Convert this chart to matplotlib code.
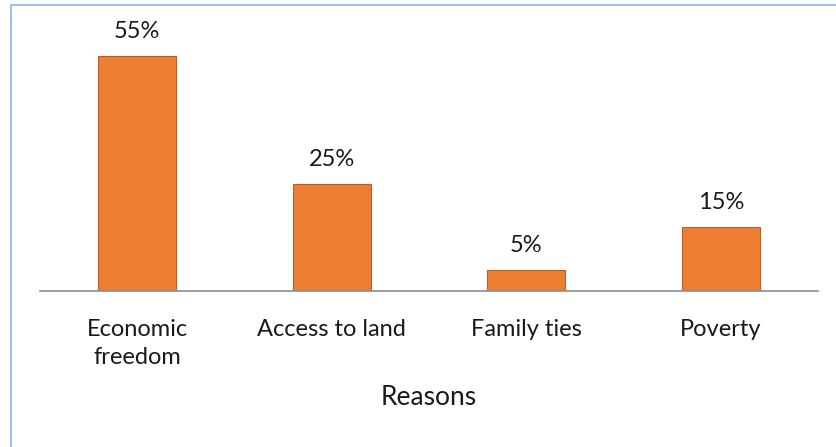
import matplotlib
matplotlib.use("Agg")
import matplotlib.pyplot as plt
from matplotlib.patches import Rectangle

categories = ["Economic\nfreedom", "Access to land", "Family ties", "Poverty"]
shares = [55, 25, 5, 15]
value_labels = ["55%", "25%", "5%", "15%"]
x_title = "Reasons"

plt.rcParams['font.family'] = ['Lato', 'DejaVu Sans']

W, H = 837, 447
fig = plt.figure(figsize=(W / 100, H / 100), dpi=100)

# outer frame of the chart area
fig.patches.append(Rectangle((11 / W, -0.1), 1.2, 1 - 5 / H + 0.1,
                             transform=fig.transFigure, fill=False,
                             edgecolor="#9DC3E6", linewidth=1.5))

ax_left, ax_right = 40 / W, 818 / W
ax_bottom = (H - 291) / H
ax_top = (H - 34.6) / H
ax = fig.add_axes([ax_left, ax_bottom, ax_right - ax_left, ax_top - ax_bottom])

xs = list(range(len(categories)))
ax.bar(xs, shares, width=0.4, color="#ED7D31", edgecolor="#B8602A", linewidth=0.8)
ax.set_xlim(-0.5, len(categories) - 0.5)
ax.set_ylim(0, 60)

for x, v, lab in zip(xs, shares, value_labels):
    ax.annotate(lab, (x, v), xytext=(0, 10), textcoords="offset points",
                ha="center", va="bottom", fontsize=17, color="#1a1a1a")

for s in ["top", "right", "left"]:
    ax.spines[s].set_visible(False)
ax.spines["bottom"].set_color("#8C8C8C")
ax.spines["bottom"].set_linewidth(1.2)
ax.set_yticks([])
ax.set_xticks(xs)
ax.set_xticklabels(categories, fontsize=17, color="#1a1a1a", linespacing=1.4)
ax.tick_params(axis="x", length=0, pad=20.5)
ax.set_xlabel(x_title, fontsize=19, color="#1a1a1a", labelpad=12)

fig.savefig("out.png", dpi=100)
